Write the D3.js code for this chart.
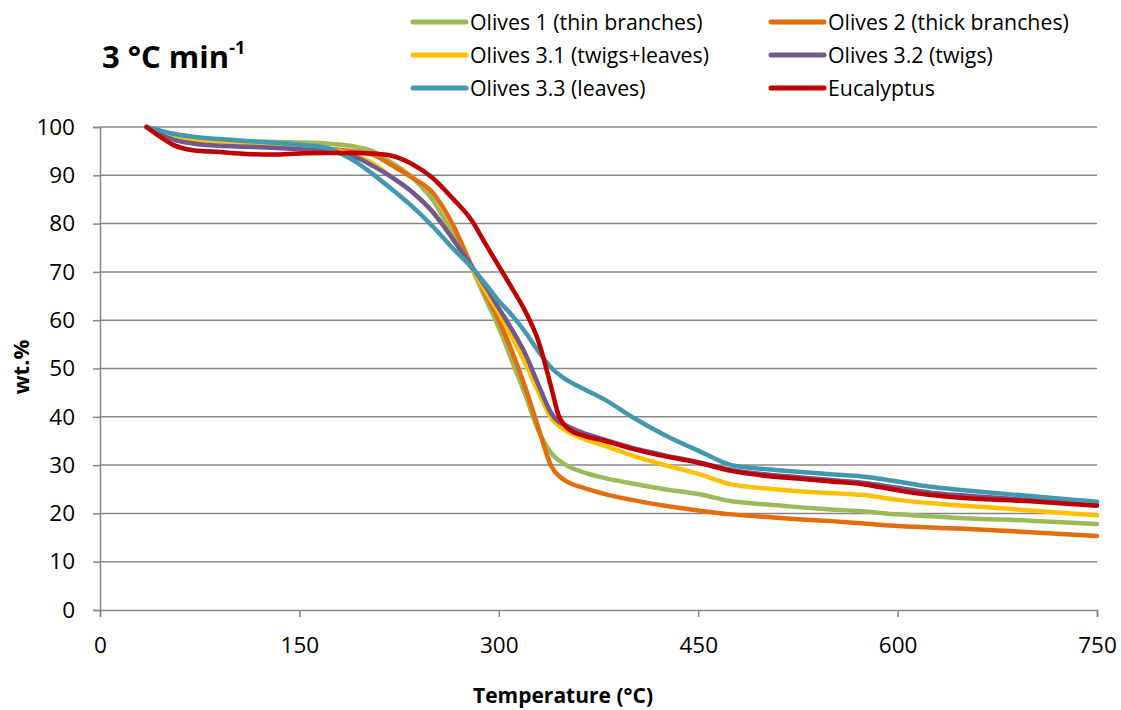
<!DOCTYPE html>
<html>
<head>
<meta charset="utf-8">
<script src="https://cdn.jsdelivr.net/npm/d3@7"></script>
<style>
  html, body { margin: 0; padding: 0; background: #fff; }
  svg { display: block; font-family: "Open Sans", "Liberation Sans", sans-serif; }
</style>
</head>
<body>
<svg id="chart" width="1121" height="710"></svg>
<script>
// Temperature grid (°C) shared by all TGA curves
const temps = [35, 45, 55, 70, 90, 110, 130, 150, 170, 190, 205, 220, 235, 250, 265, 280, 290, 300, 310, 320, 330, 340, 345, 350, 355, 365, 380, 400, 425, 450, 475, 500, 525, 550, 575, 600, 625, 650, 700, 750];

// Mass remaining (wt.%) for each sample
const olives1 = [100, 98.8, 98, 97.5, 97.2, 97, 96.9, 96.8, 96.6, 96, 95, 92.5, 89.5, 85, 78, 70.5, 64.5, 58.5, 51.5, 44.5, 37, 32.3, 31, 30.1, 29.4, 28.4, 27.3, 26.2, 25, 24, 22.5, 21.9, 21.3, 20.8, 20.4, 19.8, 19.4, 19.0, 18.5, 17.8];
const olives2 = [100, 98.5, 97.5, 96.8, 96.4, 96.2, 96, 95.8, 95.5, 95, 94.3, 92, 89.5, 86.5, 80, 71, 65.5, 60, 53.5, 46, 37.5, 29.5, 27.8, 26.8, 26.1, 25.2, 24, 22.8, 21.6, 20.6, 19.8, 19.3, 18.8, 18.4, 17.9, 17.4, 17.1, 16.8, 16.1, 15.3];
const olives31 = [100, 98.8, 97.8, 97.2, 96.8, 96.5, 96.3, 96, 95.5, 94.3, 92.5, 89.5, 86.5, 82.5, 77, 70.5, 66, 61.5, 56.5, 51, 45, 39.5, 38.2, 37.2, 36.5, 35.3, 34, 32, 30, 28.2, 26, 25.2, 24.6, 24.2, 23.8, 22.8, 22.1, 21.6, 20.6, 19.6];
const olives32 = [100, 98.5, 97.4, 96.6, 96.1, 95.9, 95.7, 95.4, 95, 94, 92, 89.5, 86.5, 82.5, 77, 71, 67, 62.5, 58, 53, 46.5, 40.5, 39, 38.3, 37.6, 36.5, 35.2, 33.6, 32, 30.6, 29, 28.1, 27.5, 26.9, 26.3, 25.3, 24.3, 23.7, 22.8, 22];
const olives33 = [100, 99.3, 98.6, 98, 97.5, 97.1, 96.8, 96.3, 95.7, 93.2, 90.3, 87, 83.5, 79.5, 75, 70.8, 67.5, 64, 61, 57.5, 53.5, 50, 48.8, 47.8, 47, 45.6, 43.5, 40, 36.2, 33, 30, 29.2, 28.6, 28.1, 27.6, 26.6, 25.5, 24.8, 23.6, 22.4];
const eucalyptus = [100, 98, 96.3, 95.2, 94.8, 94.4, 94.3, 94.5, 94.6, 94.6, 94.5, 94.0, 92.3, 89.5, 85.3, 80.5, 75.8, 71.2, 66.6, 61.8, 55.5, 45.5, 40.3, 38.1, 37, 36, 35, 33.4, 31.8, 30.5, 28.8, 27.8, 27.2, 26.6, 26, 24.8, 23.8, 23.2, 22.5, 21.6];

const seriesNames = ["Olives 1 (thin branches)", "Olives 2 (thick branches)", "Olives 3.1 (twigs+leaves)", "Olives 3.2 (twigs)", "Olives 3.3 (leaves)", "Eucalyptus"];
const seriesValues = [olives1, olives2, olives31, olives32, olives33, eucalyptus];
const seriesColors = ["#9BBB59", "#E46C0A", "#FFC000", "#71588F", "#4198AF", "#C00000"];

const xTicks = [0, 150, 300, 450, 600, 750];
const yTicks = [0, 10, 20, 30, 40, 50, 60, 70, 80, 90, 100];

const svg = d3.select("#chart");
const plot = { left: 100, right: 1097, top: 127, bottom: 610 };

const x = d3.scaleLinear().domain([0, 750]).range([plot.left, plot.right]);
const y = d3.scaleLinear().domain([0, 100]).range([plot.bottom, plot.top]);

const axisColor = "#878787";
const tickFont = 22.5;

// horizontal gridlines
svg.append("g")
  .selectAll("line")
  .data(yTicks.filter(d => d > 0))
  .join("line")
  .attr("x1", plot.left).attr("x2", plot.right)
  .attr("y1", d => y(d)).attr("y2", d => y(d))
  .attr("stroke", axisColor).attr("stroke-width", 1.5);

// y axis
const yAxis = svg.append("g")
  .attr("transform", `translate(${plot.left},0)`)
  .call(d3.axisLeft(y).tickValues(yTicks).tickSize(7).tickPadding(18).tickFormat(d3.format("d")));
yAxis.select(".domain").attr("stroke", axisColor).attr("stroke-width", 1.5);
yAxis.selectAll(".tick line").attr("stroke", axisColor).attr("stroke-width", 1.5);
yAxis.selectAll(".tick text")
  .attr("fill", "#000").attr("font-size", tickFont).attr("font-family", "'Open Sans', sans-serif");

// x axis
const xAxis = svg.append("g")
  .attr("transform", `translate(0,${plot.bottom})`)
  .call(d3.axisBottom(x).tickValues(xTicks).tickSize(7).tickPadding(20).tickFormat(d3.format("d")));
xAxis.select(".domain").attr("stroke", axisColor).attr("stroke-width", 1.5);
xAxis.selectAll(".tick line").attr("stroke", axisColor).attr("stroke-width", 1.5);
xAxis.selectAll(".tick text")
  .attr("fill", "#000").attr("font-size", tickFont).attr("font-family", "'Open Sans', sans-serif");

// curves
const line = d3.line()
  .x((d, i) => x(temps[i]))
  .y(d => y(d))
  .curve(d3.curveMonotoneX);

svg.append("g")
  .selectAll("path")
  .data(seriesValues)
  .join("path")
  .attr("d", d => line(d))
  .attr("fill", "none")
  .attr("stroke", (d, i) => seriesColors[i])
  .attr("stroke-width", 4.5)
  .attr("stroke-linejoin", "round")
  .attr("stroke-linecap", "round");

// title
const title = svg.append("text")
  .attr("x", 102).attr("y", 68)
  .attr("font-size", 31).attr("font-weight", "bold").attr("fill", "#000");
title.append("tspan").text("3 °C min");
title.append("tspan").attr("dy", -14).attr("font-size", 18).text("-1");

// legend
const legendPos = [
  [413, 22], [771, 22],
  [413, 55], [771, 55],
  [413, 88], [771, 88]
];
const legend = svg.append("g")
  .selectAll("g")
  .data(seriesNames)
  .join("g")
  .attr("transform", (d, i) => `translate(${legendPos[i][0]},${legendPos[i][1]})`);
legend.append("line")
  .attr("x1", 0).attr("x2", 53).attr("y1", 0).attr("y2", 0)
  .attr("stroke", (d, i) => seriesColors[i])
  .attr("stroke-width", 5).attr("stroke-linecap", "round");
legend.append("text")
  .attr("x", 57).attr("y", 0).attr("dy", "0.36em")
  .attr("font-size", 21.3).attr("fill", "#000")
  .text(d => d);

// axis titles
svg.append("text")
  .attr("transform", `translate(29,367) rotate(-90)`)
  .attr("text-anchor", "middle")
  .attr("font-size", 22).attr("font-weight", "bold").attr("fill", "#000")
  .text("wt.%");

svg.append("text")
  .attr("x", 563).attr("y", 703)
  .attr("text-anchor", "middle")
  .attr("font-size", 21).attr("font-weight", "bold").attr("fill", "#000")
  .text("Temperature (°C)");
</script>
</body>
</html>
